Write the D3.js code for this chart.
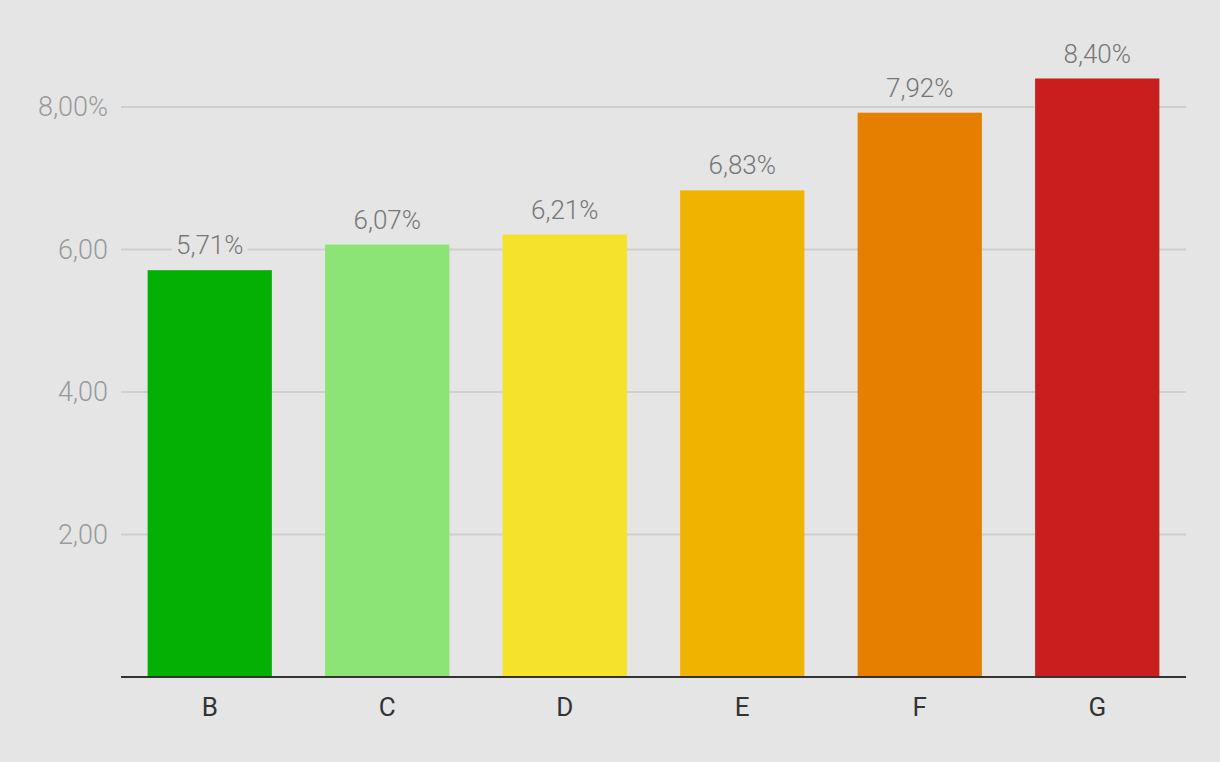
<!DOCTYPE html>
<html>
<head>
<meta charset="utf-8">
<script src="https://cdn.jsdelivr.net/npm/d3@7"></script>
<style>
  body { margin: 0; background: #e5e5e5; }
  svg { display: block; font-family: Roboto, sans-serif; }
</style>
</head>
<body>
<script>
var categories = ["B", "C", "D", "E", "F", "G"];
var values = [5.71, 6.07, 6.21, 6.83, 7.92, 8.40];
var colors = ["#05b005", "#8ce476", "#f5e22a", "#f0b400", "#e67e00", "#c91d1e"];
var yTicks = [2, 4, 6, 8];

var width = 1220, height = 762;
var margin = { top: 0, right: 34, bottom: 85, left: 121 };

var fmt = function (v) { return v.toFixed(2).replace(".", ","); };

var svg = d3.select("body").append("svg")
    .attr("width", width)
    .attr("height", height);

svg.append("rect").attr("width", width).attr("height", height).attr("fill", "#e5e5e5");

var x = d3.scaleBand()
    .domain(categories)
    .range([margin.left, width - margin.right])
    .paddingInner(0.3)
    .paddingOuter(0.15);

// 0 at y=677, 8 at y=107
var y = d3.scaleLinear()
    .domain([0, 8])
    .range([677, 107]);

// gridlines
svg.append("g")
    .selectAll("line")
    .data(yTicks)
    .enter()
    .append("line")
    .attr("x1", margin.left)
    .attr("x2", width - margin.right)
    .attr("y1", function (d) { return y(d); })
    .attr("y2", function (d) { return y(d); })
    .attr("stroke", "#cfcfcf")
    .attr("stroke-width", 2);

// y tick labels
svg.append("g")
    .selectAll("text")
    .data(yTicks)
    .enter()
    .append("text")
    .attr("x", 108)
    .attr("y", function (d) { return y(d); })
    .attr("dy", "0.35em")
    .attr("text-anchor", "end")
    .attr("fill", "#9a9a9a")
    .style("font-size", "27px")
    .style("font-weight", 300)
    .text(function (d, i) { return fmt(d) + (i === yTicks.length - 1 ? "%" : ""); });

// bars
svg.append("g")
    .selectAll("rect")
    .data(categories)
    .enter()
    .append("rect")
    .attr("x", function (d) { return x(d); })
    .attr("y", function (d, i) { return y(values[i]); })
    .attr("width", x.bandwidth())
    .attr("height", function (d, i) { return y(0) - y(values[i]); })
    .attr("fill", function (d, i) { return colors[i]; });

// value labels with background
var lbl = svg.append("g")
    .selectAll("g")
    .data(categories)
    .enter()
    .append("g")
    .attr("transform", function (d, i) {
        return "translate(" + (x(d) + x.bandwidth() / 2) + "," + (y(values[i]) - 25) + ")";
    });

lbl.append("rect")
    .attr("x", -38).attr("y", -15)
    .attr("width", 76).attr("height", 30)
    .attr("fill", "#e5e5e5");

lbl.append("text")
    .attr("text-anchor", "middle")
    .attr("dy", "0.35em")
    .attr("fill", "#777")
    .style("font-size", "26px")
    .style("font-weight", 300)
    .text(function (d, i) { return fmt(values[i]) + "%"; });

// baseline
svg.append("line")
    .attr("x1", margin.left)
    .attr("x2", width - margin.right)
    .attr("y1", y(0))
    .attr("y2", y(0))
    .attr("stroke", "#333")
    .attr("stroke-width", 2);

// x labels
svg.append("g")
    .selectAll("text")
    .data(categories)
    .enter()
    .append("text")
    .attr("x", function (d) { return x(d) + x.bandwidth() / 2; })
    .attr("y", 707)
    .attr("dy", "0.35em")
    .attr("text-anchor", "middle")
    .attr("fill", "#333")
    .style("font-size", "26px")
    .text(function (d) { return d; });
</script>
</body>
</html>
